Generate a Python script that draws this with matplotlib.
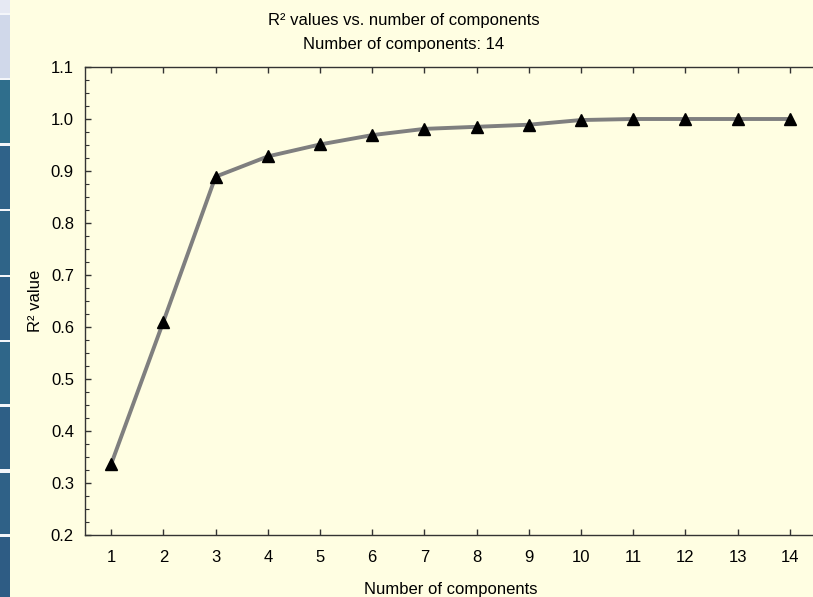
import matplotlib
matplotlib.use("Agg")
import matplotlib.pyplot as plt
from matplotlib.patches import Rectangle
from matplotlib.ticker import MultipleLocator, FormatStrFormatter

components = [1, 2, 3, 4, 5, 6, 7, 8, 9, 10, 11, 12, 13, 14]
r2_values = [0.336, 0.610, 0.889, 0.928, 0.951, 0.969, 0.981, 0.985, 0.989,
             0.998, 1.000, 1.000, 1.000, 1.000]
title_lines = ["R\u00b2 values vs. number of components", "Number of components: 14"]
x_label = "Number of components"
y_label = "R\u00b2 value"

plt.rcParams['font.family'] = ['Liberation Sans', 'DejaVu Sans']
bg = '#FFFEE2'
W, H = 813, 597
fs = 12
fig = plt.figure(figsize=(W / 100, H / 100), dpi=100, facecolor=bg)

# left decorative strip (screenshot UI)
fig.patches.append(Rectangle((0, 0), 10 / W, 1, transform=fig.transFigure,
                             facecolor='#f4f6fa', edgecolor='none'))
strip_colors = ['#e6e9f3', '#d0d8ea', '#2f6e8c', '#2f6289', '#2f6488', '#2e6087',
                '#2f6689', '#2e5f86', '#2f6187', '#2e5c84']
bounds = [(0, 13), (15, 78), (80, 143), (146, 209), (211, 275), (277, 340),
          (342, 404), (407, 469), (473, 534), (537, 597)]
for c, (y0, y1) in zip(strip_colors, bounds):
    fig.patches.append(Rectangle((0, 1 - y1 / H), 9.5 / W, (y1 - y0) / H,
                                 transform=fig.transFigure, facecolor=c,
                                 edgecolor='none'))

left, right, top, bottom = 85, 816, 67, 535
ax = fig.add_axes([left / W, 1 - bottom / H, (right - left) / W, (bottom - top) / H])
ax.set_facecolor(bg)

ax.plot(components, r2_values, color='#7f7f7f', lw=2.8, marker='^',
        markersize=9, markerfacecolor='black', markeredgecolor='black', zorder=3)

ax.set_xlim(0.5, 14.5)
ax.set_ylim(0.2, 1.1)
ax.set_xticks(components)
ax.yaxis.set_major_locator(MultipleLocator(0.1))
ax.yaxis.set_minor_locator(MultipleLocator(0.025))
ax.yaxis.set_major_formatter(FormatStrFormatter('%.1f'))
ax.tick_params(axis='both', which='major', direction='in', length=4, width=1,
               labelsize=fs, colors='#333333', labelcolor='black')
ax.tick_params(axis='x', which='major', pad=11, top=True)
ax.tick_params(axis='y', which='major', pad=8, right=False)
ax.tick_params(axis='y', which='minor', direction='in', length=3, width=0.8,
               colors='#333333', right=False)
for s in ax.spines.values():
    s.set_color('#333333')
    s.set_linewidth(1)
ax.spines['right'].set_visible(False)

ax.set_xlabel(x_label, fontsize=fs)
ax.xaxis.set_label_coords(0.5, -0.1)
ax.set_ylabel(y_label, fontsize=fs)
ax.yaxis.set_label_coords(-0.058, 0.5)

fig.text(404 / W, 1 - 20 / H, title_lines[0], ha='center', va='center', fontsize=fs)
fig.text(404 / W, 1 - 45 / H, title_lines[1], ha='center', va='center', fontsize=fs)

fig.savefig('out.png', dpi=100, facecolor=bg)
